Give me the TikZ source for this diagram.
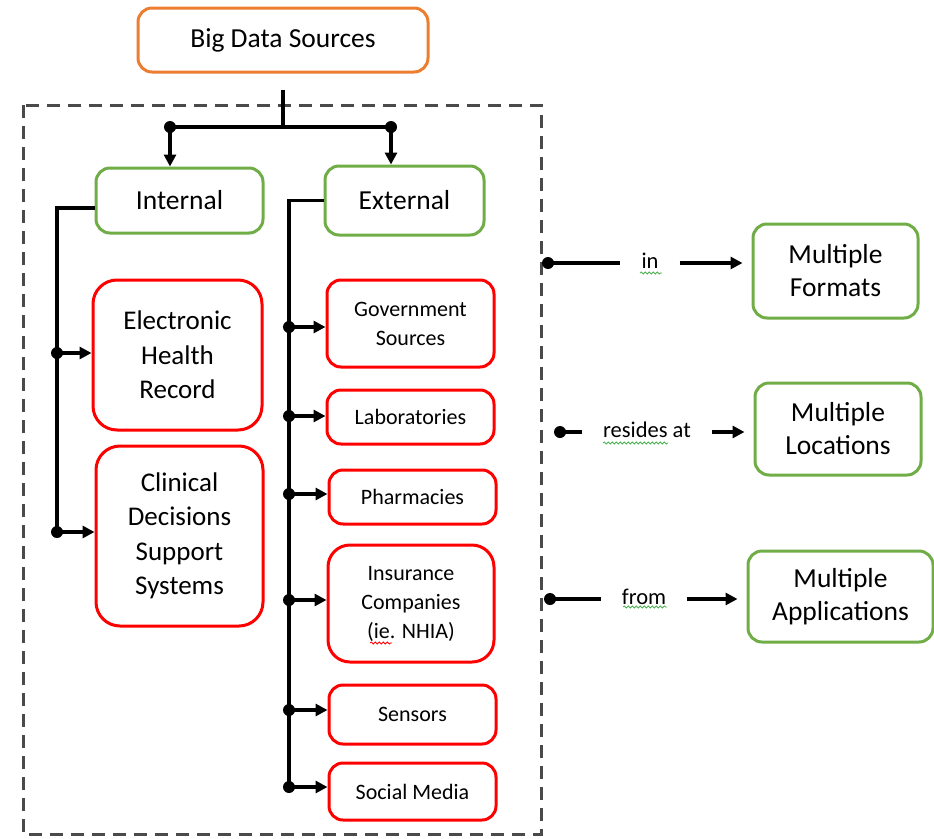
\documentclass[tikz,border=0pt]{standalone}
\usepackage{fontspec}
\setmainfont{Carlito}
\usetikzlibrary{arrows.meta,decorations.pathmorphing}
\definecolor{cOrange}{HTML}{ED7D31}
\definecolor{cGreen}{HTML}{70AD47}
\definecolor{cRed}{HTML}{FF0000}
\definecolor{cGray}{HTML}{4A4A4A}
\definecolor{cSq}{HTML}{4CAF50}
\begin{document}
\begin{tikzpicture}[x=1pt,y=-1pt,
 box/.style={draw, line width=3pt, rounded corners=14pt, align=center, inner sep=0pt, text=black},
 obox/.style={box, draw=cOrange, font=\fontsize{27.5}{34}\selectfont},
 gbox/.style={box, draw=cGreen, font=\fontsize{27.5}{33}\selectfont},
 rbig/.style={box, draw=cRed, rounded corners=24pt, font=\fontsize{27}{34.5}\selectfont},
 rsmall/.style={box, draw=cRed, rounded corners=14pt, font=\fontsize{22}{29}\selectfont},
 conn/.style={line width=3.4pt},
 arr/.style={conn, -{Triangle[length=12pt,width=12pt]}},
 dot/.style={circle, fill=black, inner sep=0pt, minimum size=12pt},
 lab/.style={font=\fontsize{22.5}{25}\selectfont, inner xsep=21pt, inner ysep=0pt},
 squig/.style={decorate, decoration={snake, amplitude=1pt, segment length=4pt}, line width=0.8pt}
]
\useasboundingbox (0,0) rectangle (934,838);

% dashed frame
\draw[dash pattern=on 13pt off 8pt, line width=3pt, draw=cGray] (23,105) rectangle (541,834);

% nodes
\node[obox, minimum width=290pt, minimum height=64pt] (big) at (283,40) {Big Data Sources};
\node[gbox, minimum width=167pt, minimum height=65pt] (int) at (179.5,200.5) {Internal};
\node[gbox, minimum width=159pt, minimum height=69pt] (ext) at (404.5,200.5) {External};

\node[rbig, minimum width=169pt, minimum height=150pt] (ehr) at (177.5,355) {Electronic\\Health\\Record};
\node[rbig, minimum width=167pt, minimum height=180pt] (cdss) at (179.5,536) {Clinical\\Decisions\\Support\\Systems};

\node[rsmall, minimum width=167pt, minimum height=87pt] (gov) at (410.5,323.5) {Government\\Sources};
\node[rsmall, minimum width=167pt, minimum height=54pt] (lab) at (410.5,417) {Laboratories};
\node[rsmall, minimum width=167pt, minimum height=54pt] (pha) at (412.5,497) {Pharmacies};
\node[rsmall, minimum width=166pt, minimum height=117pt, rounded corners=22pt] (ins) at (411,603.5) {Insurance\\Companies\\(ie. NHIA)};
\node[rsmall, minimum width=167pt, minimum height=59pt] (sen) at (412.5,714.5) {Sensors};
\node[rsmall, minimum width=167pt, minimum height=57pt] (soc) at (412.5,791.5) {Social Media};

\node[gbox, minimum width=165pt, minimum height=94pt] (mf) at (835.5,271) {Multiple\\Formats};
\node[gbox, minimum width=166pt, minimum height=92pt] (ml) at (838,429) {Multiple\\Locations};
\node[gbox, minimum width=185pt, minimum height=91pt] (ma) at (840.5,596.5) {Multiple\\Applications};

% top split
\coordinate (jT) at (283,127);
\coordinate (jL) at (170,127);
\coordinate (jR) at (391,127);
\draw[conn] ([yshift=-16pt]big.south) -- (jT);
\draw[conn] (jL) -- (jR);
\node[dot] at (jL) {};
\node[dot] at (jR) {};
\draw[arr] (jL) -- (jL |- int.north);
\draw[arr] (jR) -- (jR |- ext.north);

% internal tree
\coordinate (iTop) at (57,208);
\coordinate (iE) at (57,353);
\coordinate (iC) at (57,532);
\draw[conn] ([yshift=-7.5pt]int.west) -- (iTop) -- (iC);
\foreach \j/\b in {iE/ehr, iC/cdss}{
  \node[dot] at (\j) {};
  \draw[arr] (\j) -- (\j -| \b.west);
}

% external tree
\coordinate (eTop) at (289,200.5);
\coordinate (eG) at (289,327);
\coordinate (eL) at (289,416);
\coordinate (eP) at (289,494);
\coordinate (eI) at (289,600);
\coordinate (eS) at (289,710);
\coordinate (eM) at (289,787);
\draw[conn] (ext.west) -- (eTop) -- (eM);
\foreach \j/\b in {eG/gov, eL/lab, eP/pha, eI/ins, eS/sen, eM/soc}{
  \node[dot] at (\j) {};
  \draw[arr] (\j) -- (\j -| \b.west);
}

% right side relations
\coordinate (r1) at (548,263);
\coordinate (r2) at (560,432);
\coordinate (r3) at (550,599);
\node[lab] (l1) at (650,261) {in};
\node[lab] (l2) at (647,430) {resides at};
\node[lab] (l3) at (644,597) {from};
\foreach \r/\l/\b in {r1/l1/mf, r2/l2/ml, r3/l3/ma}{
  \node[dot] at (\r) {};
  \draw[conn] (\r) -- (\r -| \l.west);
  \draw[arr, shorten >=9pt] (\r -| \l.east) -- (\r -| \b.west);
}

% spell-check squiggles
\draw[squig, cSq] (640,273) -- (662,273);
\draw[squig, cSq] (603,443) -- (668,443);
\draw[squig, cSq] (623,607) -- (667,607);
\draw[squig, cRed] (370,643) -- (392,643);
\end{tikzpicture}
\end{document}
